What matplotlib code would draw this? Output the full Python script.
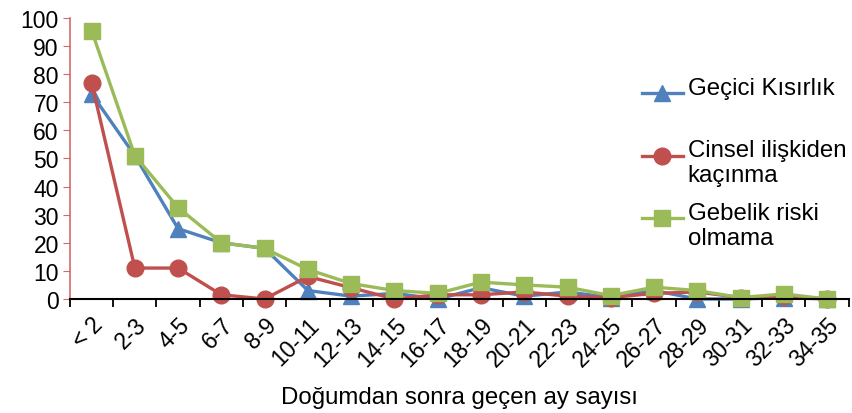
import numpy as np
import matplotlib.pyplot as plt
from matplotlib.legend_handler import HandlerLine2D

plt.rcParams['font.family'] = ['Liberation Sans', 'DejaVu Sans']

categories = ['< 2', '2-3', '4-5', '6-7', '8-9', '10-11', '12-13', '14-15', '16-17',
              '18-19', '20-21', '22-23', '24-25', '26-27', '28-29', '30-31', '32-33', '34-35']
gecici = [73, 51, 25, 20, 18, 3, 1, 2, 0, 4, 1, 2.5, 0.5, 3, 0, 0, 0.5, 0]
cinsel = [77, 11, 11, 1.5, 0, 8, 4, 0, 1.5, 1.5, 2.5, 1, 0.5, 2, 2.5, 0.5, 1, 0]
gebelik = [95.5, 51, 32.5, 20, 18, 10.5, 5.5, 3, 2, 6, 5, 4.2, 1.2, 4.2, 3, 0.5, 1.8, 0]

labels = ['Geçici Kısırlık\n ', 'Cinsel ilişkiden\nkaçınma', 'Gebelik riski\nolmama']

blue = '#4F81BD'
red = '#C0504D'
green = '#9BBB59'
fs = 16.5
fs_big = 17.3


class TopHandler(HandlerLine2D):
    # put the legend line next to the first text line
    def create_artists(self, legend, orig_handle, xdescent, ydescent, width, height, fontsize, trans):
        arts = super().create_artists(legend, orig_handle, xdescent, ydescent, width, height, fontsize, trans)
        for a in arts:
            a.set_ydata(np.full_like(a.get_xdata(), height - 0.05 * fontsize))
        return arts


fig = plt.figure(figsize=(8.53, 4.14), dpi=100)
ax = fig.add_axes([0.082, 0.2754, 0.913, 0.679])

x = np.arange(len(categories))
ax.plot(x, gecici, color=blue, lw=2.4, marker='^', ms=12, label=labels[0])
ax.plot(x, cinsel, color=red, lw=2.4, marker='o', ms=12, label=labels[1])
ax.plot(x, gebelik, color=green, lw=2.4, marker='s', ms=12, label=labels[2])

ax.set_xlim(-0.5, len(categories) - 0.5)
ax.set_ylim(0, 100)
ax.set_yticks(np.arange(0, 101, 10))
ax.tick_params(axis='y', labelsize=fs, length=5, color='#D46A6A', pad=3)

ax.set_xticks(np.arange(-0.5, len(categories), 1))
ax.set_xticklabels([])
ax.set_xticks(x, minor=True)
ax.set_xticklabels(categories, minor=True, rotation=45, ha='right', va='top',
                   rotation_mode='anchor', fontsize=fs)
ax.tick_params(axis='x', which='major', length=6, width=1.3, color='black', direction='out')
ax.tick_params(axis='x', which='minor', length=0, pad=10)

for s in ['top', 'right']:
    ax.spines[s].set_visible(False)
ax.spines['left'].set_color('#D46A6A')
ax.spines['left'].set_linewidth(1.2)
ax.spines['bottom'].set_color('black')
ax.spines['bottom'].set_linewidth(1.5)
ax.spines['left'].set_zorder(0)
for ln in ax.lines:
    ln.set_clip_on(False)

ax.set_xlabel('Doğumdan sonra geçen ay sayısı', fontsize=fs_big, labelpad=11)

ax.legend(loc='upper left', bbox_to_anchor=(0.719, 0.834), frameon=False, fontsize=fs_big,
          handlelength=1.7, handletextpad=0.2, labelspacing=0.63, borderpad=0,
          handler_map={ln: TopHandler() for ln in ax.lines})

fig.savefig('out.png', dpi=100)
